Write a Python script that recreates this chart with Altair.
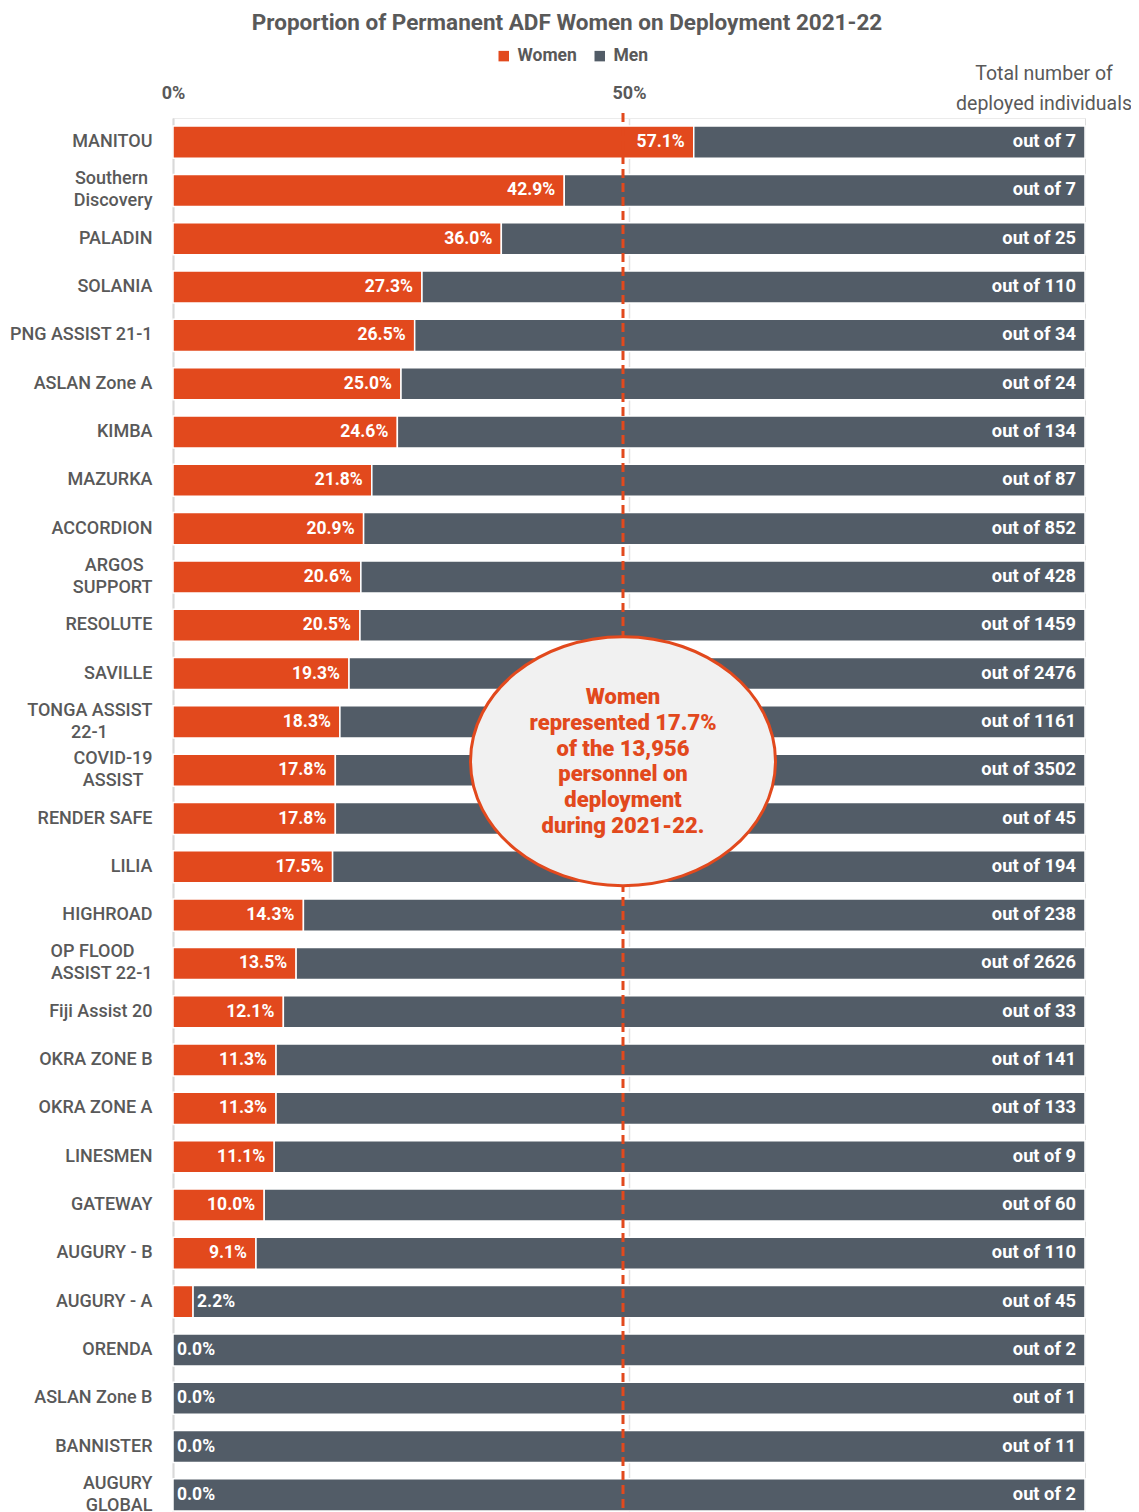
import altair as alt
import pandas as pd

# ---------------- data ----------------
operations = [
    "MANITOU", "Southern\nDiscovery", "PALADIN", "SOLANIA", "PNG ASSIST 21-1",
    "ASLAN Zone A", "KIMBA", "MAZURKA", "ACCORDION", "ARGOS\nSUPPORT",
    "RESOLUTE", "SAVILLE", "TONGA ASSIST\n22-1", "COVID-19\nASSIST", "RENDER SAFE",
    "LILIA", "HIGHROAD", "OP FLOOD\nASSIST 22-1", "Fiji Assist 20", "OKRA ZONE B",
    "OKRA ZONE A", "LINESMEN", "GATEWAY", "AUGURY - B", "AUGURY - A",
    "ORENDA", "ASLAN Zone B", "BANNISTER", "AUGURY\nGLOBAL",
]
women_pct = [
    57.1, 42.9, 36.0, 27.3, 26.5,
    25.0, 24.6, 21.8, 20.9, 20.6,
    20.5, 19.3, 18.3, 17.8, 17.8,
    17.5, 14.3, 13.5, 12.1, 11.3,
    11.3, 11.1, 10.0, 9.1, 2.2,
    0.0, 0.0, 0.0, 0.0,
]
totals = [
    7, 7, 25, 110, 34,
    24, 134, 87, 852, 428,
    1459, 2476, 1161, 3502, 45,
    194, 238, 2626, 33, 141,
    133, 9, 60, 110, 45,
    2, 1, 11, 2,
]
groups = ["Women", "Men"]
colors = ["#E2491D", "#525C67"]
callout_text = "Women\nrepresented 17.7%\nof the 13,956\npersonnel on\ndeployment\nduring 2021-22."
total_header = "Total number of\ndeployed individuals"
title_text = "Proportion of Permanent ADF Women on Deployment 2021-22"

NBSP = "\u00a0"
WJ = "\u2060"


def centre_lines(label):
    # pad shorter lines so right-aligned multi-line labels look centred
    lines = label.split("\n")
    if len(lines) == 1:
        return label
    longest = max(len(l) for l in lines)
    out = []
    for l in lines:
        pad = round((longest - len(l)) * 1.2)
        out.append(l + NBSP * pad + (WJ if pad else ""))
    return "\n".join(out)


ops = [centre_lines(o) for o in operations]

rows = []
for op, w, t in zip(ops, women_pct, totals):
    rows.append(dict(op=op, group="Women", start=0.0, end=w / 100))
    rows.append(dict(op=op, group="Men", start=w / 100, end=1.0))
bars_df = pd.DataFrame(rows)

summary = pd.DataFrame(dict(
    op=ops,
    w=[v / 100 for v in women_pct],
    pct_label=[f"{v:.1f}%" for v in women_pct],
    out_label=[f"out of {t}" for t in totals],
))

FONT = "Roboto"
GREY_TXT = "#595959"
W, H = 912, 1401

y_enc = alt.Y(
    "op:N", sort=ops, title=None,
    scale=alt.Scale(paddingInner=0.337, paddingOuter=0.168),
    axis=alt.Axis(
        labelExpr="split(datum.label, '\\n')",
        labelFont=FONT, labelFontSize=18, labelFontWeight=500,
        labelColor=GREY_TXT, labelPadding=21, labelLineHeight=22,
        labelOffset={"condition": {"test": "indexof(datum.value, '\\n') >= 0", "value": -11}, "value": 0},
        ticks=False, tickSize=0, domain=True, domainColor="#d9d9d9",
        domainWidth=2, grid=False, labelLimit=300,
    ),
)
x_enc = alt.X(
    "start:Q", title=None,
    scale=alt.Scale(domain=[0, 1], nice=False),
    axis=alt.Axis(
        orient="top", values=[0, 0.5], format=".0%", labelFlush=False,
        labelFont=FONT, labelFontSize=18, labelFontWeight="bold",
        labelColor=GREY_TXT, labelPadding=16, ticks=False, tickSize=0,
        domain=True, domainColor="#ebebeb", grid=True, gridColor="#e3e3e3",
        gridWidth=1.5,
    ),
)

bars = alt.Chart(bars_df).mark_bar(stroke="white", strokeWidth=1.5).encode(
    x=x_enc, x2="end:Q", y=y_enc,
    color=alt.Color(
        "group:N", title=None,
        scale=alt.Scale(domain=groups, range=colors),
        legend=alt.Legend(
            orient="none", legendX=322, legendY=-71, direction="horizontal",
            symbolType="square", symbolSize=110, symbolStrokeWidth=0,
            labelFont=FONT, labelFontSize=17.5, labelFontWeight="bold",
            labelColor=GREY_TXT, columnPadding=14, labelOffset=5,
        ),
    ),
    order=alt.Order("start:Q"),
)

inside = alt.Chart(summary).transform_filter("datum.w >= 0.05").mark_text(
    align="right", baseline="middle", dx=-9, font=FONT, fontSize=17.5,
    fontWeight="bold", color="white",
).encode(x="w:Q", y=alt.Y("op:N", sort=ops), text="pct_label:N")

outside = alt.Chart(summary).transform_filter("datum.w < 0.05").mark_text(
    align="left", baseline="middle", dx=4, font=FONT, fontSize=17.5,
    fontWeight="bold", color="white",
).encode(x="w:Q", y=alt.Y("op:N", sort=ops), text="pct_label:N")

out_of = alt.Chart(summary).mark_text(
    align="right", baseline="middle", dx=-9, font=FONT, fontSize=18.3,
    fontWeight="bold", color="white",
).encode(x=alt.datum(1), y=alt.Y("op:N", sort=ops), text="out_label:N")

rule_df = pd.DataFrame({"x": [0.5]})
dash = alt.Chart(rule_df).mark_rule(
    color="#E2491D", strokeWidth=3, strokeDash=[9, 5], xOffset=-6,
).encode(x="x:Q", y=alt.value(-5), y2=alt.value(H))

call_df = pd.DataFrame({"x": [0.5], "op": [ops[13]], "txt": [callout_text]})
ellipse_path = "M -1 0 A 1 0.816 0 1 1 1 0 A 1 0.816 0 1 1 -1 0 Z"
ellipse = alt.Chart(call_df).mark_point(
    shape=ellipse_path, size=305 * 305, filled=True, fill="#F1F1F1",
    stroke="#E2491D", strokeWidth=3, opacity=1, fillOpacity=1,
    xOffset=-6, yOffset=-9,
).encode(x="x:Q", y=alt.Y("op:N", sort=ops))

call_text = alt.Chart(call_df).mark_text(
    lineBreak="\n", align="center", baseline="middle", font=FONT,
    fontSize=22, fontWeight=900, color="#E2491D", lineHeight=25.7,
    xOffset=-6, yOffset=-73,
).encode(x="x:Q", y=alt.Y("op:N", sort=ops), text="txt:N")

hdr_df = pd.DataFrame({"txt": [total_header]})
header = alt.Chart(hdr_df).mark_text(
    lineBreak="\n", align="center", baseline="middle", font=FONT,
    fontSize=19.5, color=GREY_TXT, lineHeight=30, xOffset=-41,
).encode(x=alt.datum(1), y=alt.value(-44), text="txt:N")

chart = alt.layer(
    bars, dash, ellipse, call_text, inside, outside, out_of, header
).properties(
    width=W, height=H,
    autosize=alt.AutoSizeParams(type="none"),
    padding={"left": 165, "top": 110, "right": 46, "bottom": 4},
    title=alt.TitleParams(
        title_text, font=FONT, fontSize=22.5, fontWeight="bold",
        color=GREY_TXT, anchor="middle", frame="group", dx=-62, dy=-9,
    ),
).configure_view(stroke=None).configure(background="white")

chart.save("out.html", embed_options={"renderer": "svg", "actions": False})
